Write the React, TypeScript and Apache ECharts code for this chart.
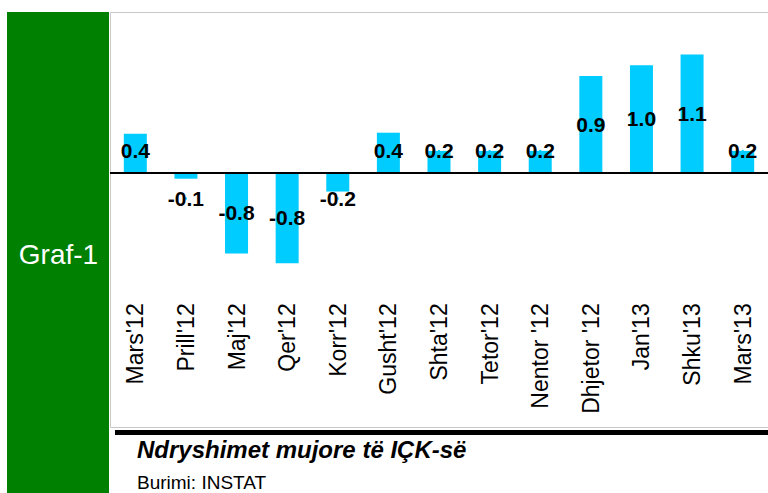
import React, { useEffect, useRef } from "react";
import * as echarts from "echarts";

const categories = [
  "Mars'12", "Prill'12", "Maj'12", "Qer'12", "Korr'12", "Gusht'12", "Shta'12",
  "Tetor'12", "Nentor '12", "Dhjetor '12", "Jan'13", "Shku'13", "Mars'13",
];
const values = [0.36, -0.06, -0.76, -0.85, -0.18, 0.37, 0.2, 0.2, 0.2, 0.9, 1.0, 1.1, 0.2];

const titleText = "Ndryshimet mujore të IÇK-së";
const sourceText = "Burimi: INSTAT";
const sideText = "Graf-1";

const FONT = "'Liberation Sans', Arial, Helvetica, sans-serif";

export default function App() {
  const ref = useRef<HTMLDivElement>(null);
  useEffect(() => {
    if (!ref.current) return;
    const chart = echarts.init(ref.current, undefined, { renderer: "svg" });
    // label anchor positions derived from values (center of bar, kept clear of the zero line)
    const labelPos = values.map((v, i) => [i, v >= 0 ? Math.max(v / 2, 0.2) : Math.min(v / 2, -0.245)]);
    chart.setOption({
      animation: false,
      backgroundColor: "#ffffff",
      graphic: [
        { type: "rect", z: -10, shape: { x: 7, y: 12, width: 102, height: 481 }, style: { fill: "#008000" } },
        { type: "rect", z: -10, shape: { x: 110.5, y: 12.5, width: 670, height: 415 }, style: { fill: "#ffffff", stroke: "#c8c8c8", lineWidth: 1 } },
        { type: "rect", z: 10, shape: { x: 115, y: 430, width: 653, height: 5 }, style: { fill: "#000000" } },
        {
          type: "text", z: 10, x: 58.5, y: 254,
          style: { text: sideText, fill: "#ffffff", font: `28px ${FONT}`, align: "center", verticalAlign: "middle" },
        },
        {
          type: "text", z: 10, x: 137, y: 449,
          style: { text: titleText, fill: "#000000", font: `italic bold 24px ${FONT}`, align: "left", verticalAlign: "middle" },
        },
        {
          type: "text", z: 10, x: 137, y: 482,
          style: { text: sourceText, fill: "#000000", font: `19px ${FONT}`, align: "left", verticalAlign: "middle" },
        },
      ],
      grid: { left: 110, width: 663, top: 43.9, height: 235.4, containLabel: false },
      xAxis: {
        type: "category",
        data: categories,
        axisLine: { show: false },
        axisTick: { show: false },
        splitLine: { show: false },
        axisLabel: {
          interval: 0,
          rotate: 90,
          margin: 24,
          fontSize: 23,
          color: "#000000",
          fontFamily: FONT,
        },
      },
      yAxis: {
        type: "value",
        min: -1,
        max: 1.2,
        show: false,
        splitLine: { show: false },
      },
      series: [
        {
          type: "bar",
          data: values,
          barWidth: 23,
          itemStyle: { color: "#00ccff" },
          markLine: {
            silent: true,
            symbol: "none",
            label: { show: false },
            lineStyle: { color: "#000000", width: 2, type: "solid" },
            data: [{ yAxis: 0 }],
          },
        },
        {
          type: "scatter",
          data: labelPos,
          symbol: "rect",
          symbolSize: 2,
          itemStyle: { color: "#00ccff", opacity: 1 },
          z: 5,
          label: {
            show: true,
            position: [1, 1],
            align: "center",
            verticalAlign: "middle",
            fontSize: 21,
            fontWeight: "bold",
            fontFamily: FONT,
            color: "#000000",
            formatter: (p: any) => values[p.dataIndex].toFixed(1),
          },
        },
      ],
    });
    return () => chart.dispose();
  }, []);
  return <div ref={ref} style={{ position: "absolute", left: 0, top: 0, width: 768, height: 493 }} />;
}
